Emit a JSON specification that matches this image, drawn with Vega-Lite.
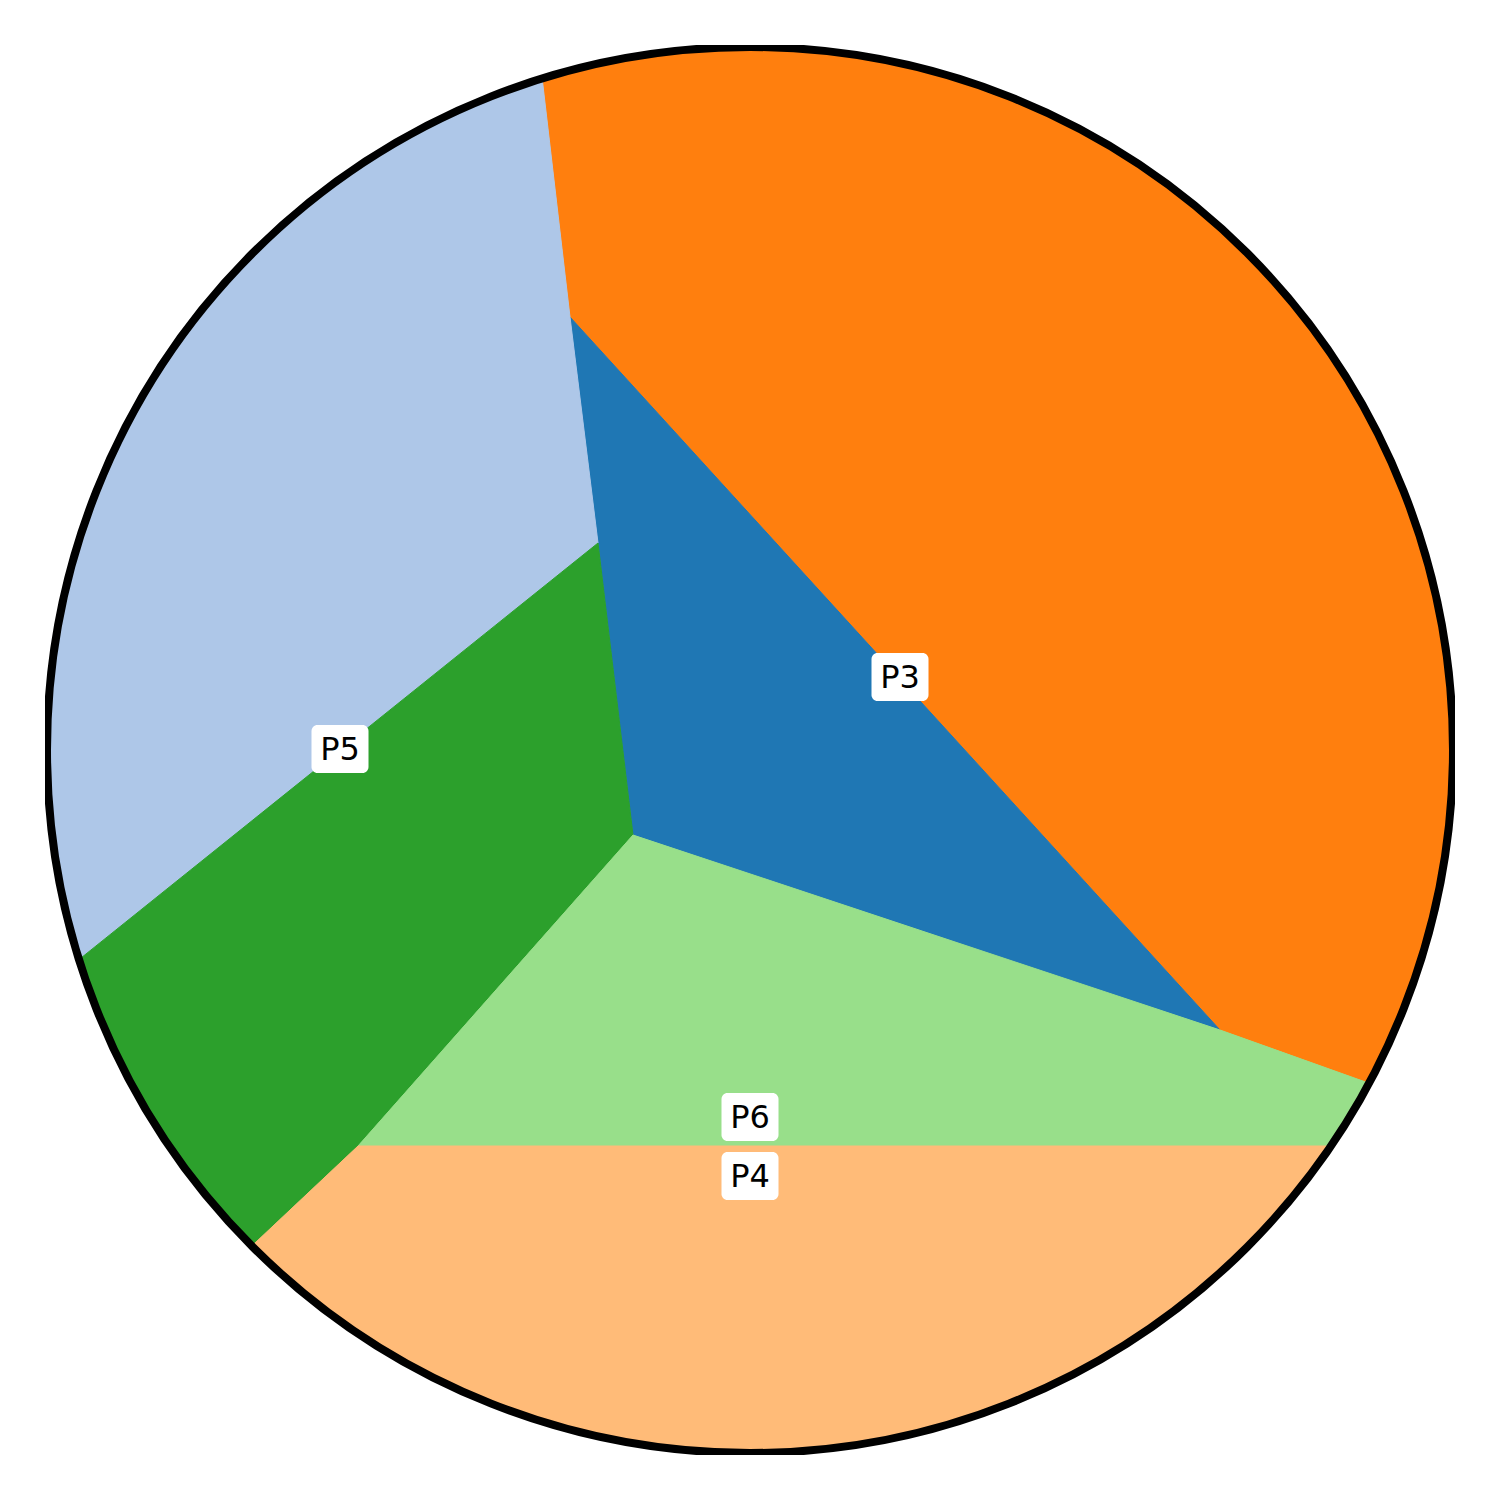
{
  "$schema": "https://vega.github.io/schema/vega-lite/v6.json",
  "width": 1410,
  "height": 1410,
  "padding": 45,
  "autosize": "none",
  "background": "white",
  "config": {"view": {"stroke": null}},
  "datasets": {
    "cells": [
      {"cell": "P3", "i": 0, "px": 533, "py": 0},
      {"cell": "P3", "i": 1, "px": 1500, "py": 0},
      {"cell": "P3", "i": 2, "px": 1500, "py": 1130},
      {"cell": "P3", "i": 3, "px": 1220, "py": 1030},
      {"cell": "P3", "i": 4, "px": 570, "py": 317},
      {"cell": "P1", "i": 0, "px": 570, "py": 317},
      {"cell": "P1", "i": 1, "px": 1220, "py": 1030},
      {"cell": "P1", "i": 2, "px": 633, "py": 835},
      {"cell": "P1", "i": 3, "px": 598, "py": 543},
      {"cell": "P2", "i": 0, "px": 0, "py": 0},
      {"cell": "P2", "i": 1, "px": 533, "py": 0},
      {"cell": "P2", "i": 2, "px": 570, "py": 317},
      {"cell": "P2", "i": 3, "px": 598, "py": 543},
      {"cell": "P2", "i": 4, "px": 0, "py": 1023},
      {"cell": "P5", "i": 0, "px": 598, "py": 543},
      {"cell": "P5", "i": 1, "px": 633, "py": 835},
      {"cell": "P5", "i": 2, "px": 358, "py": 1146},
      {"cell": "P5", "i": 3, "px": 0, "py": 1483},
      {"cell": "P5", "i": 4, "px": 0, "py": 1023},
      {"cell": "P6", "i": 0, "px": 633, "py": 835},
      {"cell": "P6", "i": 1, "px": 1220, "py": 1030},
      {"cell": "P6", "i": 2, "px": 1500, "py": 1130},
      {"cell": "P6", "i": 3, "px": 1500, "py": 1146},
      {"cell": "P6", "i": 4, "px": 358, "py": 1146},
      {"cell": "P4", "i": 0, "px": 358, "py": 1146},
      {"cell": "P4", "i": 1, "px": 1500, "py": 1146},
      {"cell": "P4", "i": 2, "px": 1500, "py": 1500},
      {"cell": "P4", "i": 3, "px": 0, "py": 1500},
      {"cell": "P4", "i": 4, "px": 0, "py": 1483}
    ],
    "centre": [{"px": 750, "py": 750}],
    "labels": [
      {"label": "P3", "px": 900, "py": 677},
      {"label": "P5", "px": 340, "py": 749},
      {"label": "P6", "px": 750, "py": 1117},
      {"label": "P4", "px": 750, "py": 1176}
    ]
  },
  "encoding": {
    "x": {"field": "px", "type": "quantitative", "scale": {"domain": [45, 1455], "nice": false, "zero": false}, "axis": null},
    "y": {"field": "py", "type": "quantitative", "scale": {"domain": [45, 1455], "nice": false, "zero": false, "reverse": true}, "axis": null}
  },
  "layer": [
    {
      "data": {"name": "cells"},
      "mark": {"type": "line", "interpolate": "linear-closed", "strokeWidth": 1, "clip": true},
      "encoding": {
        "order": {"field": "i", "type": "quantitative"},
        "fill": {"field": "cell", "type": "nominal", "legend": null,
          "scale": {"domain": ["P1", "P2", "P3", "P4", "P5", "P6"], "range": ["#1f77b4", "#aec7e8", "#ff7f0e", "#ffbb78", "#2ca02c", "#98df8a"]}},
        "stroke": {"field": "cell", "type": "nominal", "legend": null,
          "scale": {"domain": ["P1", "P2", "P3", "P4", "P5", "P6"], "range": ["#1f77b4", "#aec7e8", "#ff7f0e", "#ffbb78", "#2ca02c", "#98df8a"]}}
      }
    },
    {
      "data": {"name": "centre"},
      "mark": {"type": "point", "shape": "circle", "filled": false, "stroke": "white", "strokeWidth": 800, "size": 4866436, "opacity": 1, "strokeOpacity": 1}
    },
    {
      "data": {"name": "centre"},
      "mark": {"type": "point", "shape": "circle", "filled": false, "stroke": "black", "strokeWidth": 8, "size": 1976836, "opacity": 1, "strokeOpacity": 1, "clip": true}
    },
    {
      "data": {"name": "labels"},
      "mark": {"type": "rect", "width": 57, "height": 48, "fill": "white", "cornerRadius": 6}
    },
    {
      "data": {"name": "labels"},
      "mark": {"type": "text", "font": "DejaVu Sans", "fontSize": 32, "color": "black", "align": "center", "baseline": "middle", "dy": 1},
      "encoding": {"text": {"field": "label"}}
    }
  ]
}
